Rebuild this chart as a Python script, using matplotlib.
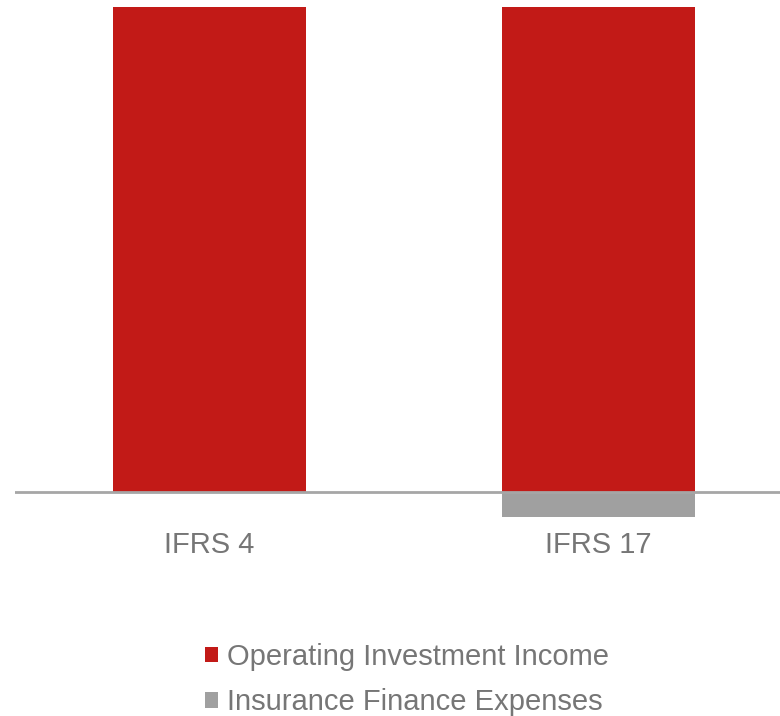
import matplotlib
matplotlib.use("Agg")
import matplotlib.pyplot as plt
from matplotlib.patches import Patch

categories = ["IFRS 4", "IFRS 17"]
operating_investment_income = [100, 100]
insurance_finance_expenses = [0, -5.2]
series_names = ["Operating Investment Income", "Insurance Finance Expenses"]
colors = ["#C21A17", "#A0A0A0"]
text_color = "#767676"

plt.rcParams['font.family'] = ['Liberation Sans', 'DejaVu Sans']

W, H = 780, 716
fig = plt.figure(figsize=(W / 100, H / 100), dpi=100)
top_px, bot_px = 7, 530
ax = fig.add_axes([15 / W, 1 - bot_px / H, 1 - 15 / W, (bot_px - top_px) / H])

x = list(range(len(categories)))
ax.bar(x, operating_investment_income, width=0.496, color=colors[0], zorder=2)
ax.bar(x, insurance_finance_expenses, width=0.496, color=colors[1], zorder=2)
ax.axhline(0, color="#A6A6A6", linewidth=2, zorder=3)

zero_px = 491.5
scale = (zero_px - top_px) / 100
ax.set_ylim(-(bot_px - zero_px) / scale, 100)
ax.set_xlim(-0.5, 1.467)
for s in ax.spines.values():
    s.set_visible(False)
ax.set_yticks([])
ax.set_xticks([])

for xi, c in zip(x, categories):
    fig.text((209.5 + 389 * xi) / W, 1 - 545 / H, c, ha="center", va="center",
             fontsize=21, color=text_color)

handles = [Patch(facecolor=colors[0]), Patch(facecolor=colors[1])]
leg = fig.legend(handles, series_names, loc="center left",
                 bbox_to_anchor=(182 / W, 1 - 679.5 / H), frameon=False,
                 fontsize=21, labelcolor=text_color, handlelength=0.45,
                 handleheight=0.45, handletextpad=0.3, labelspacing=0.6,
                 borderpad=0.3)

fig.savefig("out.png", dpi=100)
